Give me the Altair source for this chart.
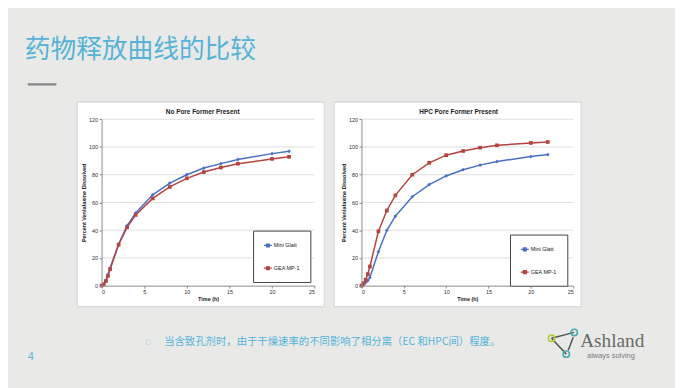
import altair as alt
import pandas as pd

# ---------------- data ----------------
time_h = [0, 0.25, 0.5, 0.75, 1, 2, 3, 4, 6, 8, 10, 12, 14, 16, 20, 22]
series = ["Mini Glatt", "GEA MP-1"]
markers = ["m1", "m2"]
left_mini = [0, 1, 3.6, 8, 12.6, 30, 43.3, 52.4, 65.5, 74, 80, 84.8, 88, 91, 95.2, 96.9]
left_gea = [0, 1, 3.3, 7, 11.9, 29.5, 42.1, 51, 62.9, 71.2, 77.4, 81.9, 85.2, 87.9, 91.4, 92.9]
right_mini = [0, 0.7, 2.4, 3.6, 5.9, 24.5, 39.9, 50.1, 64.1, 72.9, 79.1, 83.6, 86.9, 89.5, 93.1, 94.5]
right_gea = [0, 1.7, 4.3, 8.3, 13.8, 39.2, 54.2, 65.1, 80, 88.6, 94.1, 97.1, 99.5, 101.2, 102.9, 103.6]
x_ticks = [0, 5, 10, 15, 20, 25]
y_ticks = [0, 20, 40, 60, 80, 100, 120]

slide_title = "药物释放曲线的比较"
left_title = "No Pore Former Present"
right_title = "HPC Pore Former Present"
x_title = "Time (h)"
y_title = "Percent Venlafaxine Dissolved"
footer = "当含致孔剂时，由于干燥速率的不同影响了相分离（EC 和HPC间）程度。"
page_no = "4"

# ---------------- style ----------------
W, H = 675, 380          # whole drawing (page minus 8px margin)
BG = "#e9eae8"
BLUE = "#4a70c4"
RED = "#b5443f"
TITLE_BLUE = "#55b3d8"
FONT = "Liberation Sans"
CJK = "Noto Sans CJK SC"

Y0, Y120 = 278.7, 110.3
LEFT_X = [94.7, 310.3]
RIGHT_X = [357.7, 572.0]

one = pd.DataFrame({"k": [0]})


def text(t, x, y, size, color, align="left", weight="normal", font=FONT, baseline="middle", angle=0):
    return alt.Chart(one).mark_text(
        text=t, align=align, baseline=baseline, fontSize=size, color=color,
        fontWeight=weight, font=font, angle=angle
    ).encode(x=alt.value(x), y=alt.value(y))


def rect(x1, x2, y1, y2, fill, stroke=None, sw=1):
    kw = dict(fill=fill)
    if stroke:
        kw.update(stroke=stroke, strokeWidth=sw)
    return alt.Chart(one).mark_rect(**kw).encode(
        x=alt.value(x1), x2=alt.value(x2), y=alt.value(y1), y2=alt.value(y2))


def seg(x1, y1, x2, y2, color, sw):
    return alt.Chart(one).mark_rule(color=color, strokeWidth=sw).encode(
        x=alt.value(x1), x2=alt.value(x2), y=alt.value(y1), y2=alt.value(y2))


def ring(x, y, color, size=42):
    return alt.Chart(one).mark_point(shape="circle", filled=False, color=color, size=size,
                                     strokeWidth=1.6, opacity=1).encode(
        x=alt.value(x), y=alt.value(y))


def panel(mini, gea, x_range, lx, ly):
    n = len(time_h)
    df = pd.DataFrame({
        "time": time_h * 2,
        "pct": mini + gea,
        "series": [series[0]] * n + [series[1]] * n,
        "marker": [markers[0]] * n + [markers[1]] * n,
    })
    xs = alt.Scale(domain=[0, 25], range=x_range, nice=False, zero=False)
    ys = alt.Scale(domain=[0, 120], range=[Y0, Y120], nice=False)
    cs = alt.Scale(domain=series, range=[BLUE, RED])
    common = dict(grid=False, zindex=1, domainColor="#8a8a8a", tickColor="#8a8a8a",
                  tickSize=2.5, labelFontSize=5.5, labelColor="#333", labelFont=FONT,
                  labelPadding=1.5, titleFont=FONT, titleFontSize=5.5, titleColor="#222",
                  titleFontWeight="bold", domainWidth=1)
    x_axis = alt.Axis(orient="bottom", offset=-(H - Y0), values=x_ticks, title=x_title,
                      titlePadding=2, **common)
    y_axis = alt.Axis(orient="left", offset=-x_range[0], values=y_ticks, title=y_title,
                      titlePadding=2, **common)

    gdf = pd.DataFrame({"g": y_ticks[1:], "a": [0] * 6, "b": [25] * 6})
    grid = alt.Chart(gdf).mark_rule(color="#d6d6d6", strokeWidth=0.8).encode(
        y=alt.Y("g:Q", scale=ys, axis=y_axis),
        x=alt.X("a:Q", scale=xs, axis=x_axis),
        x2="b:Q",
    )
    legend = alt.Legend(
        orient="none", legendX=lx, legendY=ly, title=None, fillColor="white",
        strokeColor="#444", padding=10, rowPadding=14, labelFontSize=5.5,
        labelFont=FONT, labelColor="#222", labelOffset=1,
        symbolType="M-1,0H1M-0.35,-0.35H0.35V0.35H-0.35Z", symbolSize=64,
        symbolStrokeWidth=1.3, direction="vertical",
    )
    base = alt.Chart(df).encode(
        x=alt.X("time:Q", scale=xs, axis=x_axis),
        y=alt.Y("pct:Q", scale=ys, axis=y_axis),
    )
    line = base.mark_line(strokeWidth=1.5).encode(
        color=alt.Color("series:N", scale=cs, sort=series, legend=legend))
    pts = base.mark_point(filled=True, size=14, opacity=1).encode(
        color=alt.Color("series:N", scale=cs, sort=series, legend=legend),
        shape=alt.Shape("marker:N", scale=alt.Scale(domain=markers, range=["diamond", "square"]),
                        legend=None))
    return alt.layer(grid, line, pts)


layers = [
    # slide decorations
    text(slide_title, 17, 40, 26, TITLE_BLUE, font=CJK),
    seg(20, 75, 49, 75, "#8c8c8c", 2.5),
    rect(70, 320, 93, 300, "white", "#d2d2d2"),
    rect(330, 580, 93, 300, "white", "#d2d2d2"),
    text(left_title, 197, 103, 6.5, "#222", align="center", weight="bold"),
    text(right_title, 456, 103, 6.5, "#222", align="center", weight="bold"),
    text("○", 142, 336, 7, "#8fc3d6", align="center", font="DejaVu Sans"),
    text(footer, 158, 336, 10.5, TITLE_BLUE, font=CJK),
    text(page_no, 20, 351, 11, TITLE_BLUE),
    # logo
    seg(550, 332, 573, 326, "#555", 1.5),
    seg(550, 332, 565, 348, "#555", 1.5),
    seg(572, 331, 567, 344, "#555", 1.5),
    ring(550, 332, "#b7c93a"),
    ring(573, 326, "#4aa9b3"),
    ring(565, 348, "#4aa9b3"),
    text("Ashland", 579, 341, 19.5, "#6a6a6a", font="Liberation Serif", baseline="alphabetic"),
    text("always solving", 586, 350, 7.5, "#7a7a7a", baseline="middle"),
    # charts
    panel(left_mini, left_gea, LEFT_X, 248, 223),
    panel(right_mini, right_gea, RIGHT_X, 508, 227),
]

chart = alt.layer(*layers).resolve_scale(
    x="independent", y="independent", color="independent", shape="independent"
).properties(
    width=W, height=H, autosize=alt.AutoSizeParams(type="none"), padding=0, background=BG
).configure_view(stroke=None)

chart.save("out.html", embed_options={"renderer": "svg", "actions": False})
